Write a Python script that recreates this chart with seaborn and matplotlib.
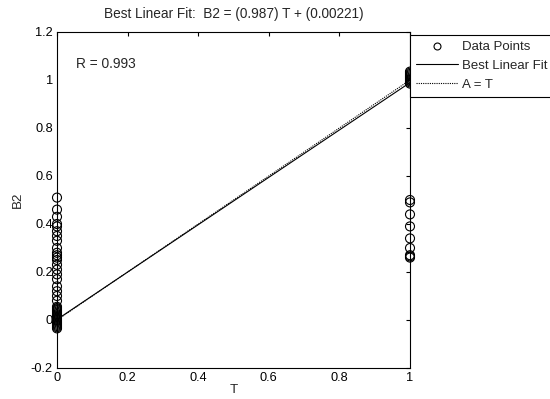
import numpy as np
import pandas as pd
import matplotlib
matplotlib.use("Agg")
import matplotlib.pyplot as plt
import seaborn as sns
from matplotlib.ticker import FuncFormatter
from matplotlib.lines import Line2D

# Data
t_zero_outputs = [0.51, 0.46, 0.43, 0.40, 0.39, 0.37, 0.35, 0.33, 0.30, 0.28,
                  0.27, 0.26, 0.25, 0.23, 0.21, 0.19, 0.17, 0.14, 0.12, 0.10,
                  0.08, 0.055, 0.05, 0.045, 0.04, 0.035, 0.03, 0.025, 0.02, 0.015,
                  0.01, 0.005, 0.0, -0.005, -0.01, -0.015, -0.02, -0.025, -0.03, -0.035]
t_one_outputs = [1.035, 1.03, 1.025, 1.02, 1.015, 1.01, 1.005, 1.0, 0.995, 0.99,
                 0.985, 0.5, 0.49, 0.44, 0.39, 0.34, 0.30, 0.27, 0.265, 0.26]
slope = 0.987
intercept = 0.00221
r_value = 0.993
fit_x = [0, 1]
x_ticks = [0, 0.2, 0.4, 0.6, 0.8, 1]
y_ticks = [-0.2, 0, 0.2, 0.4, 0.6, 0.8, 1, 1.2]

points = pd.DataFrame({
    "T": [0] * len(t_zero_outputs) + [1] * len(t_one_outputs),
    "B2": t_zero_outputs + t_one_outputs,
})
fit_df = pd.DataFrame({"T": fit_x, "B2": [slope * x + intercept for x in fit_x]})
ident_df = pd.DataFrame({"T": fit_x, "B2": fit_x})

sns.set_style("white")
plt.rcParams["font.family"] = ["Liberation Sans", "DejaVu Sans"]
FS = 9.6

fig = plt.figure(figsize=(5.5, 3.99), dpi=100)
ax = fig.add_axes([57 / 550, 1 - 368 / 399, (410 - 57) / 550, (368 - 32) / 399])

sns.scatterplot(data=points, x="T", y="B2", ax=ax, marker="o", s=42,
                facecolors="none", edgecolor="black", linewidth=0.8, legend=False,
                clip_on=False, zorder=3)
sns.lineplot(data=fit_df, x="T", y="B2", ax=ax, color="black", linewidth=0.8)
sns.lineplot(data=ident_df, x="T", y="B2", ax=ax, color="black", linewidth=0.8,
             linestyle=(0, (1, 1)))

ax.set_xlim(0, 1)
ax.set_ylim(-0.2, 1.2)
ax.set_xticks(x_ticks)
ax.set_yticks(y_ticks)
fmt = FuncFormatter(lambda v, p: "%g" % round(v, 4))
ax.xaxis.set_major_formatter(fmt)
ax.yaxis.set_major_formatter(fmt)
ax.tick_params(direction="in", length=3, width=0.8, top=True, right=True,
               labelsize=FS - 0.4, pad=3, colors="black")
for s in ax.spines.values():
    s.set_color("black")
    s.set_linewidth(0.8)
ax.set_xlabel("T", fontsize=FS, labelpad=0)
ax.set_ylabel("B2", fontsize=FS, labelpad=5)
ax.set_title("Best Linear Fit:  B2 = (%.3f) T + (%.5f)" % (slope, intercept),
             fontsize=9.8, pad=10)
ax.text(0.055, 1.067, "R = %.3f" % r_value, fontsize=9.9, va="center", ha="left")

handles = [
    Line2D([], [], marker="o", linestyle="none", markerfacecolor="none",
           markeredgecolor="black", markersize=5, markeredgewidth=0.8),
    Line2D([], [], color="black", linewidth=0.8),
    Line2D([], [], color="black", linewidth=0.8, linestyle=(0, (1, 1))),
]
leg = fig.legend(handles, ["Data Points", "Best Linear Fit", "A = T"],
                 loc="upper left", bbox_to_anchor=(410 / 550, 1 - 35 / 399),
                 frameon=True, fancybox=False, fontsize=9.5, handlelength=3.2,
                 handletextpad=0.3, borderpad=0.45, labelspacing=0.5,
                 borderaxespad=0, framealpha=1)
leg.get_frame().set_edgecolor("black")
leg.get_frame().set_linewidth(0.8)

fig.savefig("out.png", dpi=100)
